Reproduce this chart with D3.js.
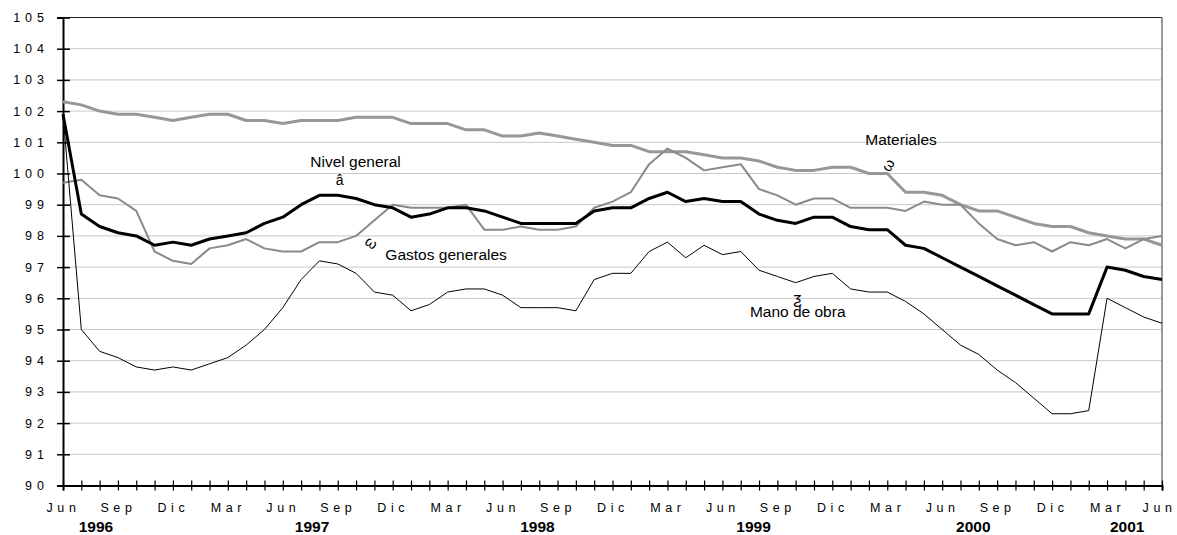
<!DOCTYPE html>
<html><head><meta charset="utf-8">
<script src="https://cdn.jsdelivr.net/npm/d3@7"></script>
<style>
body{margin:0;background:#fff;}
svg text{font-family:"Liberation Sans",Arial,sans-serif;fill:#000;}
</style></head>
<body><svg id="c" width="1177" height="535"></svg>
<script>
// Months from Jun 1996 to Jun 2001 (61 monthly points)
const monthNames = ["Jun","Sep","Dic","Mar"];
const years = ["1996","1997","1998","1999","2000","2001"];
const yearPos = [1.8, 13.6, 25.9, 37.7, 49.7, 58.1];
const yTicks = [90,91,92,93,94,95,96,97,98,99,100,101,102,103,104,105];

const materiales = [102.3,102.2,102.0,101.9,101.9,101.8,101.7,101.8,101.9,101.9,101.7,101.7,101.6,101.7,101.7,101.7,101.8,101.8,101.8,101.6,101.6,101.6,101.4,101.4,101.2,101.2,101.3,101.2,101.1,101.0,100.9,100.9,100.7,100.7,100.7,100.6,100.5,100.5,100.4,100.2,100.1,100.1,100.2,100.2,100.0,100.0,99.4,99.4,99.3,99.0,98.8,98.8,98.6,98.4,98.3,98.3,98.1,98.0,97.9,97.9,97.7];
const gastos = [99.7,99.8,99.3,99.2,98.8,97.5,97.2,97.1,97.6,97.7,97.9,97.6,97.5,97.5,97.8,97.8,98.0,98.5,99.0,98.9,98.9,98.9,99.0,98.2,98.2,98.3,98.2,98.2,98.3,98.9,99.1,99.4,100.3,100.8,100.5,100.1,100.2,100.3,99.5,99.3,99.0,99.2,99.2,98.9,98.9,98.9,98.8,99.1,99.0,99.0,98.4,97.9,97.7,97.8,97.5,97.8,97.7,97.9,97.6,97.9,98.0];
const nivel = [101.9,98.7,98.3,98.1,98.0,97.7,97.8,97.7,97.9,98.0,98.1,98.4,98.6,99.0,99.3,99.3,99.2,99.0,98.9,98.6,98.7,98.9,98.9,98.8,98.6,98.4,98.4,98.4,98.4,98.8,98.9,98.9,99.2,99.4,99.1,99.2,99.1,99.1,98.7,98.5,98.4,98.6,98.6,98.3,98.2,98.2,97.7,97.6,97.3,97.0,96.7,96.4,96.1,95.8,95.5,95.5,95.5,97.0,96.9,96.7,96.6];
const mano = [101.9,95.0,94.3,94.1,93.8,93.7,93.8,93.7,93.9,94.1,94.5,95.0,95.7,96.6,97.2,97.1,96.8,96.2,96.1,95.6,95.8,96.2,96.3,96.3,96.1,95.7,95.7,95.7,95.6,96.6,96.8,96.8,97.5,97.8,97.3,97.7,97.4,97.5,96.9,96.7,96.5,96.7,96.8,96.3,96.2,96.2,95.9,95.5,95.0,94.5,94.2,93.7,93.3,92.8,92.3,92.3,92.4,96.0,95.7,95.4,95.2];

const svg = d3.select("#c");
const x = d3.scaleLinear().domain([0,60]).range([63,1162]);
const y = d3.scaleLinear().domain([90,105]).range([485.5,17.5]);

// gridlines
svg.append("g").selectAll("line").data(yTicks.filter(d=>d>90&&d<105)).join("line")
  .attr("x1",x(0)).attr("x2",x(60)).attr("y1",d=>y(d)).attr("y2",d=>y(d))
  .attr("stroke","#c8c8c8").attr("stroke-width",1);
// top and right frame
svg.append("line").attr("x1",x(0)).attr("x2",x(60)).attr("y1",y(105)).attr("y2",y(105)).attr("stroke","#222").attr("stroke-width",1.2);
svg.append("line").attr("x1",x(60)).attr("x2",x(60)).attr("y1",y(105)).attr("y2",y(90)).attr("stroke","#777").attr("stroke-width",1.5);

// Y axis
const yAxis = d3.axisLeft(y).tickValues(yTicks).tickSize(6).tickFormat(d=>String(d));
const gy = svg.append("g").attr("transform",`translate(${x(0)},0)`).call(yAxis);
gy.select(".domain").attr("stroke","#000").attr("stroke-width",2);
gy.selectAll(".tick line").attr("x2",-6).attr("x1",7).attr("stroke","#000").attr("stroke-width",1.5);
gy.selectAll(".tick text").attr("x",-14).style("font-size","12.5px").style("letter-spacing","5px")
  .style("font-family","'Liberation Sans',Arial,sans-serif").attr("fill","#000");

// X axis
const xAxis = d3.axisBottom(x).tickValues(d3.range(0,61)).tickSize(5).tickFormat(d=> d%3===0 ? monthNames[(d/3)%4] : "");
const gx = svg.append("g").attr("transform",`translate(0,${y(90)})`).call(xAxis);
gx.select(".domain").attr("stroke","#000").attr("stroke-width",2);
gx.selectAll(".tick line").attr("y1",-5).attr("y2",5).attr("stroke","#000").attr("stroke-width",1.2);
gx.selectAll(".tick text").attr("y",18).style("font-size","12.5px").style("letter-spacing","4.6px")
  .style("font-family","'Liberation Sans',Arial,sans-serif").attr("fill","#000");
// keep the last month label inside the picture
gx.selectAll(".tick").filter(d=>d===60).select("text")
  .attr("text-anchor","end").attr("x", 1176 - x(60));

// year labels
svg.append("g").selectAll("text").data(years).join("text")
  .attr("x",(d,i)=>x(yearPos[i])).attr("y",532).attr("text-anchor","middle")
  .style("font-size","15.5px").style("font-weight","bold").text(d=>d);

// lines
const line = d3.line().x((d,i)=>x(i)).y(d=>y(d));
const series = [
  {v:materiales, c:"#979797", w:3},
  {v:gastos, c:"#8a8a8a", w:2},
  {v:mano, c:"#000", w:1},
  {v:nivel, c:"#000", w:3}
];
svg.append("g").selectAll("path").data(series).join("path")
  .attr("d",d=>line(d.v)).attr("fill","none").attr("stroke",d=>d.c).attr("stroke-width",d=>d.w)
  .attr("stroke-linejoin","round");

// annotations
const ann = [
  {t:"Nivel general", i:13.5, v:100.21, s:15.5},
  {t:"Gastos generales", i:17.6, v:97.22, s:15.5},
  {t:"Materiales", i:43.8, v:100.92, s:15.5},
  {t:"Mano de obra", i:37.5, v:95.41, s:15.5}
];
svg.append("g").selectAll("text").data(ann).join("text")
  .attr("x",d=>x(d.i)).attr("y",d=>y(d.v)).style("font-size",d=>d.s+"px").text(d=>d.t);

const sym = [
  {t:"â", i:15.1, v:99.75, r:0, s:14},
  {t:"ω", i:16.8, v:97.75, r:35, s:15},
  {t:"ω", i:45.1, v:100.25, r:-60, s:15},
  {t:"ƺ", i:40.1, v:95.95, r:0, s:16}
];
svg.append("g").selectAll("text").data(sym).join("text")
  .attr("transform",d=>`translate(${x(d.i)},${y(d.v)}) rotate(${d.r})`)
  .attr("text-anchor","middle").attr("dominant-baseline","middle")
  .style("font-size",d=>d.s+"px").text(d=>d.t);
</script></body></html>
